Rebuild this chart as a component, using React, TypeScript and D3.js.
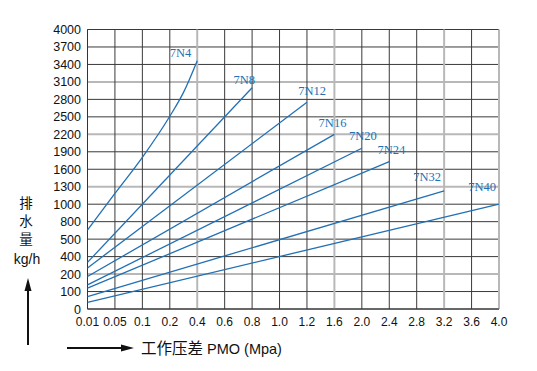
import React from 'react';
import * as d3 from 'd3';

// x ticks (MPa) - evenly spaced on the chart, not linear
const xTicks = [0.01, 0.05, 0.1, 0.2, 0.4, 0.6, 0.8, 1.0, 1.2, 1.6, 2.0, 2.4, 2.8, 3.2, 3.6, 4.0];
const xTickLabels = ['0.01', '0.05', '0.1', '0.2', '0.4', '0.6', '0.8', '1.0', '1.2', '1.6', '2.0', '2.4', '2.8', '3.2', '3.6', '4.0'];
// y ticks (kg/h) - also evenly spaced
const yTicks = [0, 100, 200, 400, 500, 800, 1000, 1300, 1600, 1900, 2200, 2500, 2800, 3100, 3400, 3700, 4000];
const xGreyTicks = [0.4, 1.6, 3.2, 4.0];
const yGreyTicks = [200, 1300, 2200, 3100];

const models = ['7N4', '7N8', '7N12', '7N16', '7N20', '7N24', '7N32', '7N40'];
const pressures = [
  [0.01, 0.05, 0.1, 0.2, 0.3, 0.4],
  [0.01, 0.8],
  [0.01, 1.2],
  [0.01, 1.6],
  [0.01, 2.0],
  [0.01, 2.4],
  [0.01, 3.2],
  [0.01, 4.0],
];
const flows = [
  [655, 1185, 1805, 2510, 2920, 3465],
  [334, 3000],
  [270, 2750],
  [186, 2200],
  [138, 1960],
  [119, 1730],
  [71, 1230],
  [38, 1000],
];

const W = 537;
const H = 371;
const left = 87.5;
const right = 499;
const top = 29.5;
const bottom = 309;
const blue = '#2270b4';

// label nudges relative to the end of each curve
const labelDx = [-6, 3, 19, 12, 15, 16, -3, -3];
const labelDy = [-4, -4, -7, -7, -8, -8, -10, -13];

export default function App() {
  const x = d3.scaleLinear()
    .domain(xTicks)
    .range(xTicks.map((_, i) => left + (i * (right - left)) / (xTicks.length - 1)));
  const y = d3.scaleLinear()
    .domain(yTicks)
    .range(yTicks.map((_, i) => bottom - (i * (bottom - top)) / (yTicks.length - 1)));

  const line = d3.line<[number, number]>()
    .x((d) => x(d[0]))
    .y((d) => y(d[1]))
    .curve(d3.curveMonotoneX);

  const sans = '"Liberation Sans", Arial, sans-serif';
  const serif = '"Liberation Serif", "Times New Roman", serif';
  const cjk = '"Noto Sans CJK SC", sans-serif';

  return (
    <svg width={W} height={H} style={{ display: 'block', position: 'absolute', left: 0, top: 0 }}>
      <rect width={W} height={H} fill="#fff" />

      {/* grid */}
      {yTicks.map((t) => {
        const grey = yGreyTicks.includes(t);
        return (
          <line key={'y' + t} x1={left} x2={right} y1={y(t)} y2={y(t)}
            stroke={grey ? '#b8b8b8' : '#3a3a3a'} strokeWidth={grey ? 2 : 1} />
        );
      })}
      {xTicks.map((t) => {
        const grey = xGreyTicks.includes(t);
        return (
          <line key={'x' + t} x1={x(t)} x2={x(t)} y1={top} y2={bottom}
            stroke={grey ? '#b8b8b8' : '#3a3a3a'} strokeWidth={grey ? 2 : 1} />
        );
      })}
      <line x1={left} x2={left} y1={top} y2={bottom} stroke="#333" strokeWidth={1} />
      <line x1={left} x2={right} y1={bottom} y2={bottom} stroke="#333" strokeWidth={1} />

      {/* tick labels */}
      {yTicks.map((t) => (
        <text key={'yl' + t} x={81} y={y(t)} dy="0.36em" textAnchor="end"
          fontFamily={sans} fontSize={12.5} fill="#111">{t}</text>
      ))}
      {xTicks.map((t, i) => (
        <text key={'xl' + t} x={x(t)} y={326} textAnchor="middle"
          fontFamily={sans} fontSize={12} fill="#111">{xTickLabels[i]}</text>
      ))}

      {/* series */}
      {models.map((m, i) => {
        const pts = pressures[i].map((p, j) => [p, flows[i][j]] as [number, number]);
        const end = pts[pts.length - 1];
        return (
          <g key={m}>
            <path d={line(pts) || ''} fill="none" stroke={blue} strokeWidth={1.3} />
            <text x={x(end[0]) + labelDx[i]} y={y(end[1]) + labelDy[i]} textAnchor="end"
              fontFamily={serif} fontSize={12.5} fill={blue}>{m}</text>
          </g>
        );
      })}

      {/* y axis title */}
      {['排', '水', '量'].map((c, i) => (
        <text key={c} x={26} y={208 + i * 18} textAnchor="middle"
          fontFamily={cjk} fontSize={13.5} fill="#111">{c}</text>
      ))}
      <text x={27} y={264} textAnchor="middle" fontFamily={sans} fontSize={14} fill="#111">kg/h</text>
      <line x1={28} x2={28} y1={345} y2={288} stroke="#111" strokeWidth={2} />
      <path d="M28,278 L24.5,291 L31.5,291 Z" fill="#111" />

      {/* x axis title */}
      <line x1={67} x2={124} y1={348} y2={348} stroke="#111" strokeWidth={2} />
      <path d="M134,348 L121,344.5 L121,351.5 Z" fill="#111" />
      <text x={141} y={353.5} fontFamily={cjk} fontSize={15.5} fill="#111">
        工作压差
        <tspan fontFamily={sans} fontSize={14.5} dx={4}>PMO (Mpa)</tspan>
      </text>
    </svg>
  );
}
